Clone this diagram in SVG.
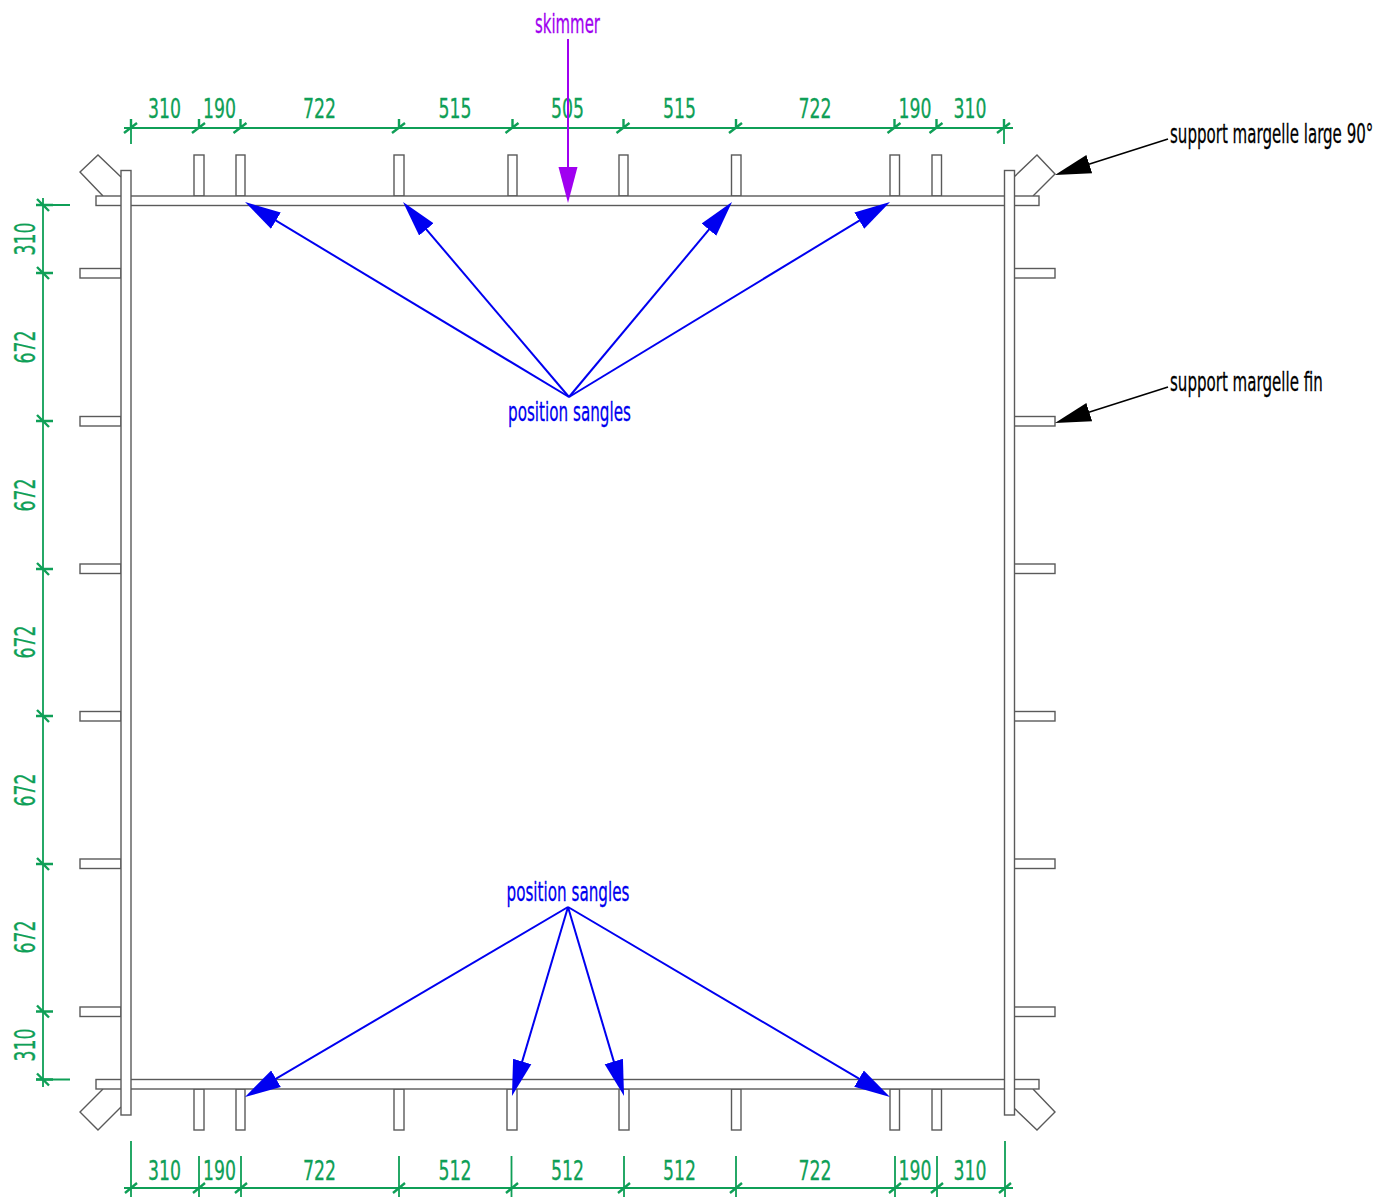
<svg xmlns="http://www.w3.org/2000/svg" xmlns:xlink="http://www.w3.org/1999/xlink" width="1392" height="1198" viewBox="0 0 1392 1198">
<style>
text{font-family:"DejaVu Sans","Liberation Sans",sans-serif;font-size:27px;stroke-width:.3}
.p rect,.p polyline{fill:#fff;stroke:#5a5a5a;stroke-width:1.4}
.d{stroke:#0f9f57;stroke-width:1.8;fill:none}
.t{stroke-width:2.4}
.dt{fill:#0f9f57;stroke:#0f9f57;text-anchor:middle}
.dt .r{font-size:29px}
.b{stroke:#0000f0;stroke-width:2;fill:none;marker-end:url(#mb)}
.k{stroke:#000;stroke-width:1.6;fill:none;marker-end:url(#mk)}
</style>
<defs>
<marker id="mb" markerUnits="userSpaceOnUse" markerWidth="38" markerHeight="22" refX="26" refY="11" orient="auto"><path d="M0,1.500L36,11L0,20.500Z" fill="#0000f0"/></marker>
<marker id="mk" markerUnits="userSpaceOnUse" markerWidth="38" markerHeight="22" refX="26" refY="11" orient="auto"><path d="M0,1.500L36,11L0,20.500Z" fill="#000"/></marker>
<marker id="mp" markerUnits="userSpaceOnUse" markerWidth="38" markerHeight="22" refX="26" refY="11" orient="auto"><path d="M0,1.500L36,11L0,20.500Z" fill="#a000f0"/></marker>
<path id="th" d="M-7,5L6,-5M0,-9V0"/>
<path id="tv" d="M-6,-6L6,6M-7,0H10"/>
</defs>

<g id="frame" class="p">
<polyline points="121,177 98,155 80,172 103,196"/>
<polyline points="1014,177 1037,155 1055,174 1033,196"/>
<polyline points="103,1089 80,1112 98,1130 121,1107"/>
<polyline points="1033,1089 1055,1112 1037,1130 1014,1108"/>
<rect x="194" y="155" width="10" height="41"/><rect x="236" y="155" width="9" height="41"/><rect x="394" y="155" width="10" height="41"/><rect x="508" y="155" width="9" height="41"/><rect x="619" y="155" width="9" height="41"/><rect x="731.500" y="155" width="9.500" height="41"/><rect x="890" y="155" width="9.500" height="41"/><rect x="932" y="155" width="9.500" height="41"/>
<rect x="194" y="1089" width="10" height="41"/><rect x="236" y="1089" width="9" height="41"/><rect x="394" y="1089" width="10" height="41"/><rect x="507" y="1089" width="10" height="41"/><rect x="619" y="1089" width="10" height="41"/><rect x="731.500" y="1089" width="9.500" height="41"/><rect x="890" y="1089" width="9.500" height="41"/><rect x="932" y="1089" width="9.500" height="41"/>
<rect x="80" y="268.500" width="41" height="9.500"/><rect x="80" y="416.500" width="41" height="9.500"/><rect x="80" y="564" width="41" height="9.500"/><rect x="80" y="711.500" width="41" height="9.500"/><rect x="80" y="859" width="41" height="9.500"/><rect x="80" y="1007" width="41" height="9.500"/>
<rect x="1014" y="268.500" width="41" height="9.500"/><rect x="1014" y="416.500" width="41" height="9.500"/><rect x="1014" y="564" width="41" height="9.500"/><rect x="1014" y="711.500" width="41" height="9.500"/><rect x="1014" y="859" width="41" height="9.500"/><rect x="1014" y="1007" width="41" height="9.500"/>
<rect x="96" y="196" width="943" height="9.500"/>
<rect x="96" y="1079.500" width="943" height="9.500"/>
<rect x="121" y="170.500" width="10" height="944.500"/>
<rect x="1004.500" y="170.500" width="10" height="944.500"/>
</g>

<g id="dim-top">
<path class="d" d="M124,128H1013M131,128V144M1004,128V144"/>
<g class="d t"><use href="#th" x="131" y="128"/><use href="#th" x="199" y="128"/><use href="#th" x="240.500" y="128"/><use href="#th" x="399" y="128"/><use href="#th" x="512.500" y="128"/><use href="#th" x="623.500" y="128"/><use href="#th" x="736" y="128"/><use href="#th" x="894.500" y="128"/><use href="#th" x="936.500" y="128"/><use href="#th" x="1004" y="128"/></g>
<g class="dt">
<text x="164.500" y="118" textLength="33" lengthAdjust="spacingAndGlyphs">310</text><text x="219.500" y="118" textLength="33" lengthAdjust="spacingAndGlyphs">190</text><text x="319.500" y="118" textLength="33" lengthAdjust="spacingAndGlyphs">722</text><text x="455" y="118" textLength="33" lengthAdjust="spacingAndGlyphs">515</text><text x="567.500" y="118" textLength="33" lengthAdjust="spacingAndGlyphs">505</text><text x="679.500" y="118" textLength="33" lengthAdjust="spacingAndGlyphs">515</text><text x="815" y="118" textLength="33" lengthAdjust="spacingAndGlyphs">722</text><text x="915" y="118" textLength="33" lengthAdjust="spacingAndGlyphs">190</text><text x="970" y="118" textLength="33" lengthAdjust="spacingAndGlyphs">310</text>
</g>
</g>

<g id="dim-bottom">
<path class="d" d="M124,1188H1013M131,1141V1197M199,1156V1197M241,1156V1197M399,1156V1197M511.500,1156V1197M624,1156V1197M736,1156V1197M895,1156V1197M937,1156V1197M1005,1141V1197"/>
<path class="d t" d="M125,1193L137,1183M193,1193L205,1183M235,1193L247,1183M393,1193L405,1183M506,1193L518,1183M618,1193L630,1183M730,1193L742,1183M889,1193L901,1183M931,1193L943,1183M999,1193L1011,1183"/>
<g class="dt">
<text x="164.500" y="1180" textLength="33" lengthAdjust="spacingAndGlyphs">310</text><text x="219.500" y="1180" textLength="33" lengthAdjust="spacingAndGlyphs">190</text><text x="319.500" y="1180" textLength="33" lengthAdjust="spacingAndGlyphs">722</text><text x="455" y="1180" textLength="33" lengthAdjust="spacingAndGlyphs">512</text><text x="567.500" y="1180" textLength="33" lengthAdjust="spacingAndGlyphs">512</text><text x="679.500" y="1180" textLength="33" lengthAdjust="spacingAndGlyphs">512</text><text x="815" y="1180" textLength="33" lengthAdjust="spacingAndGlyphs">722</text><text x="915" y="1180" textLength="33" lengthAdjust="spacingAndGlyphs">190</text><text x="970" y="1180" textLength="33" lengthAdjust="spacingAndGlyphs">310</text>
</g>
</g>

<g id="dim-left">
<path class="d" d="M43,198V1087M36,205H70M36,1079.500H70"/>
<g class="d t"><use href="#tv" x="43" y="205"/><use href="#tv" x="43" y="273"/><use href="#tv" x="43" y="421"/><use href="#tv" x="43" y="569"/><use href="#tv" x="43" y="716"/><use href="#tv" x="43" y="864"/><use href="#tv" x="43" y="1011.500"/><use href="#tv" x="43" y="1079.500"/></g>
<g class="dt">
<text class="r" transform="translate(35 239) rotate(-90)" textLength="33" lengthAdjust="spacingAndGlyphs">310</text><text class="r" transform="translate(35 347) rotate(-90)" textLength="33" lengthAdjust="spacingAndGlyphs">672</text><text class="r" transform="translate(35 495) rotate(-90)" textLength="33" lengthAdjust="spacingAndGlyphs">672</text><text class="r" transform="translate(35 642) rotate(-90)" textLength="33" lengthAdjust="spacingAndGlyphs">672</text><text class="r" transform="translate(35 790) rotate(-90)" textLength="33" lengthAdjust="spacingAndGlyphs">672</text><text class="r" transform="translate(35 937) rotate(-90)" textLength="33" lengthAdjust="spacingAndGlyphs">672</text><text class="r" transform="translate(35 1045) rotate(-90)" textLength="33" lengthAdjust="spacingAndGlyphs">310</text>
</g>
</g>

<g id="connectors">
<path d="M568,39V193" stroke="#a000f0" stroke-width="2" fill="none" marker-end="url(#mp)"/>
<path class="b" d="M569,397L253.600,207.200"/>
<path class="b" d="M569,397L409.500,209.600"/>
<path class="b" d="M569,397L725.600,209.700"/>
<path class="b" d="M569,397L881.500,207.200"/>
<path class="b" d="M568,907L253.600,1091.900"/>
<path class="b" d="M568,907L514.800,1086.400"/>
<path class="b" d="M568,907L621.200,1086.400"/>
<path class="b" d="M568,907L881.400,1091.900"/>
<path class="k" d="M1168,139L1064.500,172"/>
<path class="k" d="M1168,387L1064.500,420"/>
</g>

<g id="label-skimmer"><text x="567.500" y="33" fill="#a000f0" stroke="#a000f0" text-anchor="middle" textLength="65" lengthAdjust="spacingAndGlyphs">skimmer</text></g>
<g id="label-sangles-top"><text x="569.500" y="421" fill="#0000f0" stroke="#0000f0" text-anchor="middle" textLength="123" lengthAdjust="spacingAndGlyphs">position sangles</text></g>
<g id="label-sangles-bottom"><text x="568" y="901" fill="#0000f0" stroke="#0000f0" text-anchor="middle" textLength="123" lengthAdjust="spacingAndGlyphs">position sangles</text></g>
<g id="label-large"><text transform="translate(1170 143) scale(.558 1)" fill="#000" stroke="#000">support margelle large 90°</text></g>
<g id="label-fin"><text transform="translate(1170 391) scale(.558 1)" fill="#000" stroke="#000">support margelle fin</text></g>
</svg>
